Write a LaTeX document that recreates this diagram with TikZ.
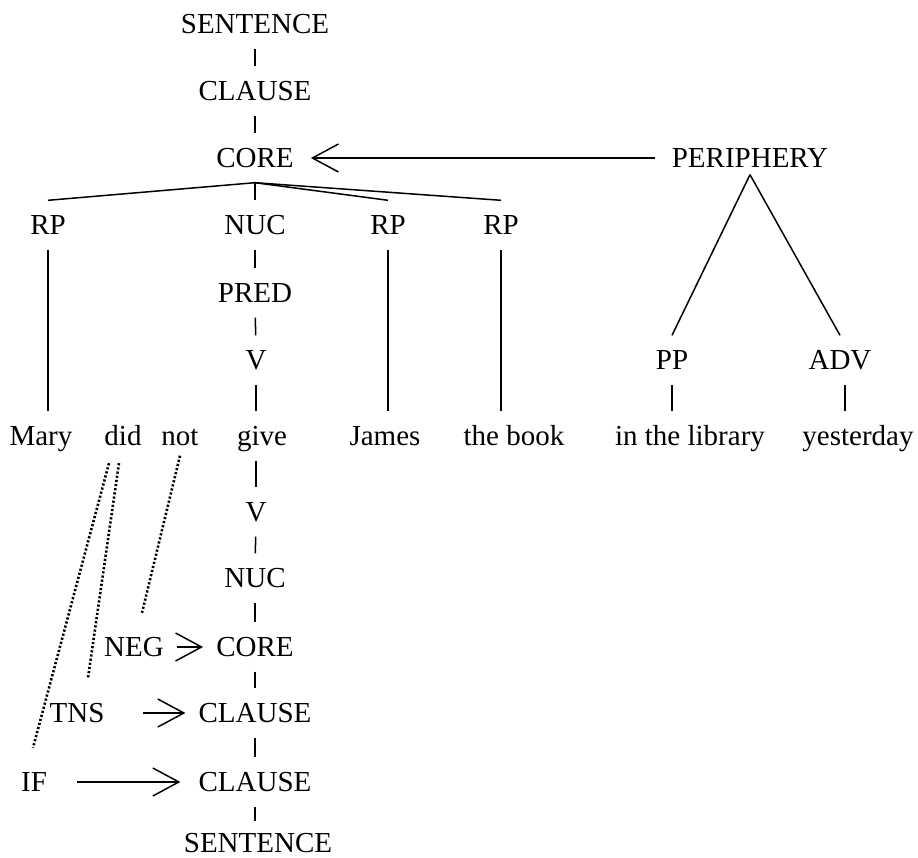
\documentclass[tikz,border=0pt]{standalone}
\usepackage{fontspec}
\setmainfont{Liberation Serif}
\usetikzlibrary{arrows.meta}
\begin{document}
\begin{tikzpicture}[x=1pt,y=1pt,
  lbl/.style={font=\fontsize{29}{31}\selectfont, inner xsep=13pt, inner ysep=15pt,
              text height=19pt, text depth=0pt, anchor=center},
  branch/.style={line width=1.5pt},
  opbarb/.style={line width=1.5pt, -{Straight Barb[length=26pt,width=28pt]}},
  dotline/.style={line width=2.6pt, dash pattern=on 2.2pt off 2pt}]
\useasboundingbox (0,0) rectangle (918,-858);

% upper (constituent) projection
\node[lbl] (sent1)  at (255,-24)  {SENTENCE};
\node[lbl] (clause1) at (255,-91) {CLAUSE};
\node[lbl] (core1)  at (255,-158) {CORE};
\node[lbl] (periph) at (750,-158) {PERIPHERY};
\node[lbl] (rp1)    at (48,-225)  {RP};
\node[lbl] (nuc1)   at (255,-225) {NUC};
\node[lbl] (rp2)    at (388,-225) {RP};
\node[lbl] (rp3)    at (501,-225) {RP};
\node[lbl] (pred)   at (255,-293) {PRED};
\node[lbl] (v1)     at (256,-360) {V};
\node[lbl] (pp)     at (672,-360) {PP};
\node[lbl] (adv)    at (840,-360) {ADV};

% the sentence
\node[lbl] (mary)  at (41,-436)  {Mary};
\node[lbl] (did)   at (123,-436) {did};
\node[lbl] (not)   at (180,-436) {not};
\node[lbl] (give)  at (262,-436) {give};
\node[lbl] (james) at (385,-436) {James};
\node[lbl] (book)  at (514,-436) {the book};
\node[lbl] (lib)   at (690,-436) {in the library};
\node[lbl] (yest)  at (858,-436) {yesterday};

% lower (operator) projection
\node[lbl] (v2)      at (256,-512) {V};
\node[lbl] (nuc2)    at (255,-578) {NUC};
\node[lbl] (core2)   at (255,-647) {CORE};
\node[lbl] (clause2) at (255,-713) {CLAUSE};
\node[lbl] (clause3) at (255,-782) {CLAUSE};
\node[lbl] (sent2)   at (258,-843) {SENTENCE};
\node[lbl] (neg) at (134,-647) {NEG};
\node[lbl] (tns) at (77,-713)  {TNS};
\node[lbl] (if)  at (34,-782)  {IF};

% constituent tree
\draw[branch] (sent1) -- (clause1);
\draw[branch] (clause1) -- (core1);
\draw[branch] (core1.south) -- (rp1.north);
\draw[branch] (core1.south) -- (nuc1.north);
\draw[branch] (core1.south) -- (rp2.north);
\draw[branch] (core1.south) -- (rp3.north);
\draw[branch] (nuc1) -- (pred);
\draw[branch] (pred) -- (v1);
\draw[branch] (v1.south) -- (v1.south |- give.north);
\draw[branch] (rp1.south) -- (rp1.south |- mary.north);
\draw[branch] (rp2.south) -- (rp2.south |- james.north);
\draw[branch] (rp3.south) -- (rp3.south |- book.north);
\draw[opbarb, shorten <=4pt, shorten >=4pt] (periph.west) -- (core1.east);
\draw[branch] ([yshift=8pt]periph.south) -- (pp.north);
\draw[branch] ([yshift=8pt]periph.south) -- (adv.north);
\draw[branch] (pp.south) -- (pp.south |- lib.north);
\draw[branch] ([xshift=5pt]adv.south) -- ([xshift=5pt]adv.south |- yest.north);

% operator projection
\draw[branch] (v2.north |- give.south) -- (v2.north);
\draw[branch] (v2) -- (nuc2);
\draw[branch] (nuc2) -- (core2);
\draw[branch] (core2) -- (clause2);
\draw[branch] (clause2) -- (clause3);
\draw[branch] (clause3.south) -- ([yshift=-3pt]clause3.south |- sent2.north);
\draw[opbarb] (neg.east) -- (core2.west);
\draw[opbarb, shorten <=25pt] (tns.east) -- (clause2.west);
\draw[opbarb, shorten <=17pt, shorten >=5pt] (if.east) -- (clause3.west);

% operators linked to their words
\draw[dotline] ([yshift=5pt]not.south) -- ([xshift=8pt,yshift=9.5pt]neg.north);
\draw[dotline] ([xshift=-4pt,yshift=-2.5pt]did.south) -- ([xshift=11pt,yshift=10.5pt]tns.north);
\draw[dotline] ([xshift=-14pt,yshift=-2.5pt]did.south) -- ([xshift=-1pt,yshift=9.5pt]if.north);
\end{tikzpicture}
\end{document}
